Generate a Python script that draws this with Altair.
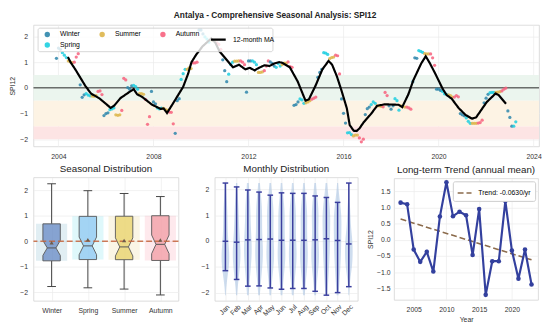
import json
import altair as alt
import numpy as np
import pandas as pd

FONT = "Liberation Sans"

# ---------------- data ----------------
years = list(range(2003, 2024))
# monthly SPI12, Jan..Dec, one row per year (None = no value)
spi12 = [
    [None, None, None, None, None, None, None, None, None, None, None, 1.15],            # 2003
    [1.55, 1.50, 1.37, 1.27, 1.18, 1.05, 1.01, 0.98, 1.00, 1.20, 1.33, 0.12],            # 2004
    [-0.37, -0.27, -0.22, -0.28, -0.31, -0.32, -0.33, -0.30, -0.14, -0.12, -0.26, -1.08],  # 2005
    [-1.00, -0.97, -0.85, -0.82, -0.78, -1.05, -1.07, -1.05, -0.88, 0.37, 0.31, 0.01],   # 2006
    [-0.05, 0.08, 0.10, 0.05, -0.05, -0.22, -0.22, -0.25, -0.45, -1.42, -1.12, -0.14],   # 2007
    [-0.55, -0.62, -0.78, -0.82, -0.79, -0.80, -0.84, -0.88, -0.94, -0.95, -1.40, -1.77],  # 2008
    [-0.50, -0.42, 0.33, 0.55, 0.72, 0.72, 0.78, 0.75, 0.97, 0.97, 1.00, 2.25],          # 2009
    [2.25, 2.10, 1.98, 1.90, 1.78, 1.87, 1.85, 1.85, 1.75, 1.69, 1.50, 1.09],            # 2010
    [0.67, 0.24, 0.53, 0.91, 1.00, 1.04, 1.04, 1.05, 1.05, 1.00, 0.90, -0.17],           # 2011
    [1.05, 1.05, 1.05, 1.00, 0.90, 0.60, 0.60, 0.62, 0.67, 0.85, 1.05, 1.01],            # 2012
    [0.95, 0.85, 0.80, 0.95, 0.85, 0.90, 0.96, 0.96, 1.01, 0.83, 0.80, -0.68],           # 2013
    [-0.65, -0.55, -0.43, -0.47, -0.60, -0.58, -0.55, -0.50, -0.44, -0.40, -0.36, 0.41],  # 2014
    [0.60, 0.72, 1.37, 1.35, 1.30, 1.14, 1.18, 1.20, 1.27, 1.25, 0.54, -0.43],           # 2015
    [-0.99, -1.37, -1.75, -1.74, -1.82, -1.87, -1.84, -1.84, -1.95, -2.10, -2.00, -1.04],  # 2016
    [-0.81, -0.75, -0.65, -0.55, -0.60, -0.70, -0.70, -0.72, -0.74, -0.18, -0.30, -0.70],  # 2017
    [-0.83, -0.70, -0.42, -0.50, -0.87, -0.70, -0.72, -0.75, -0.75, -0.78, -0.83, 0.24],  # 2018
    [1.17, 1.15, 1.45, 1.42, 1.38, 1.33, 1.32, 1.32, 1.32, 1.17, 0.88, -0.05],           # 2019
    [-0.05, -0.10, -0.14, -0.23, -0.25, -0.27, -0.30, -0.36, -0.36, -0.30, -0.35, -1.00],  # 2020
    [-1.05, -1.09, -1.17, -1.30, -1.38, -1.38, -1.38, -1.38, -1.37, -1.35, -1.26, -0.58],  # 2021
    [-0.40, -0.25, -0.19, -0.18, -0.18, -0.18, -0.17, -0.15, -0.12, -0.05, -0.01, -0.90],  # 2022
    [-1.15, -1.49, -1.49, -1.32, None, None, None, None, None, None, None, None],        # 2023
]

month_names = ["Jan", "Feb", "Mar", "Apr", "May", "Jun", "Jul", "Aug", "Sep", "Oct", "Nov", "Dec"]
season_of_month = ["Winter", "Winter", "Spring", "Spring", "Spring", "Summer",
                   "Summer", "Summer", "Autumn", "Autumn", "Autumn", "Winter"]
season_names = ["Winter", "Spring", "Summer", "Autumn"]
season_colors = ["#2E86AB", "#1DCFE0", "#DDB54A", "#F7627E"]
box_colors = ["#6f90c8", "#93cbf3", "#ead46f", "#f2a0a8"]
# order of the entries as handed to the legend (laid out as: Winter Summer Autumn / Spring)
legend_order = ["Winter", "Autumn", "Summer", "Spring"]

# 12-month moving average (as drawn)
ma_years = [2004.40, 2004.51, 2004.71, 2004.92, 2005.13, 2005.37, 2005.74, 2006.20, 2006.36,
            2006.61, 2006.94, 2007.17, 2007.31, 2007.52, 2007.93, 2008.30, 2008.43, 2008.57,
            2008.76, 2008.96, 2009.25, 2009.46, 2009.60, 2009.79, 2010.07, 2010.43, 2010.61,
            2010.78, 2011.00, 2011.19, 2011.35, 2011.60, 2011.87, 2012.05, 2012.26, 2012.38,
            2012.67, 2012.88, 2013.09, 2013.29, 2013.41, 2013.74, 2014.07, 2014.40, 2014.54,
            2014.82, 2015.11, 2015.37, 2015.52, 2015.72, 2015.93, 2016.14, 2016.26, 2016.43,
            2016.55, 2016.67, 2016.84, 2017.17, 2017.41, 2017.74, 2018.32, 2018.47, 2018.73,
            2018.94, 2019.27, 2019.46, 2019.64, 2019.89, 2020.18, 2020.34, 2020.55, 2020.84,
            2021.13, 2021.41, 2021.58, 2022.03, 2022.40, 2022.53, 2022.84]
ma_values = [1.20, 1.00, 0.72, 0.40, 0.08, -0.22, -0.42, -0.78, -0.68,
             -0.40, -0.19, -0.05, -0.25, -0.35, -0.65, -0.82, -0.80, -0.98,
             -0.70, -0.40, 0.04, 0.55, 1.00, 1.28, 1.62, 1.92, 1.75,
             1.42, 1.18, 0.97, 0.80, 0.90, 0.72, 0.78, 0.68, 0.75,
             0.88, 0.85, 0.95, 1.00, 0.98, 0.80, 0.25, -0.50, -0.45,
             0.08, 0.72, 1.05, 0.90, 0.45, -0.15, -0.80, -1.45, -1.67,
             -1.68, -1.58, -1.35, -1.00, -0.70, -0.64, -0.66, -0.75, -0.25,
             0.30, 0.95, 1.23, 0.95, 0.50, -0.05, -0.28, -0.42, -0.78,
             -1.05, -1.20, -1.15, -0.55, -0.22, -0.28, -0.62]

# annual means (bottom-right panel)
annual_years = list(range(2003, 2024))
annual_means = [1.15, 1.10, -0.30, -0.68, -0.37, -0.98, 0.72, 1.78, 0.73, 0.87, 0.76,
                -0.47, 0.95, -1.70, -0.66, -0.66, 1.20, -0.33, -1.20, -0.30, -1.38]

# drought-class bands
band_lo = [-0.5, -1.5, -2.0]
band_hi = [0.5, -0.5, -1.5]
band_colors = ["#ebf5ee", "#fdf3e4", "#fde4e4"]

year_ticks = [2004, 2008, 2012, 2016, 2020, 2024]
spi_ticks = [-2, -1, 0, 1, 2]

# ---------------- tables ----------------
rows = []
for yr, vals in zip(years, spi12):
    for m, v in enumerate(vals, start=1):
        if v is None:
            continue
        rows.append({"t": yr + (m - 1) / 12.0, "value": v, "month": m,
                     "season": season_of_month[m - 1]})
df = pd.DataFrame(rows)
ma_df = pd.DataFrame({"t": ma_years, "value": ma_values, "lab": "12-month MA"})
band_df = pd.DataFrame({"lo": band_lo, "hi": band_hi, "col": band_colors})
ann_df = pd.DataFrame({"year": annual_years, "mean": annual_means})
slope = np.polyfit(annual_years, annual_means, 1)[0]
trend_label = f"Trend: {slope:.4f}/yr"
zero_df = pd.DataFrame({"y": [0.0]})

GRID = "#ebebeb"

# ---------------- top panel ----------------
W_TOP, H_TOP = 516, 124
xs_top = alt.Scale(domain=[2002.95, 2024.23], nice=False, zero=False)
ys_top = alt.Scale(domain=[-2.28, 2.45], nice=False, zero=False)
ax_x_top = alt.Axis(values=year_ticks, format="d", title=None, labelPadding=6)
ax_y_top = alt.Axis(values=spi_ticks, format="d", title="SPI12", labelPadding=6, titlePadding=4)


def XT(f):
    return alt.X(f, scale=xs_top, axis=ax_x_top)


def YT(f):
    return alt.Y(f, scale=ys_top, axis=ax_y_top)


bands = alt.Chart(band_df).mark_rect().encode(
    x=alt.value(0), x2=alt.value(W_TOP), y=YT("lo:Q"), y2="hi:Q",
    color=alt.Color("col:N", scale=None))
zero_top = alt.Chart(zero_df).mark_rule(color="#222222", strokeWidth=1).encode(y=YT("y:Q"))
pts = alt.Chart(df).mark_circle(size=11, opacity=0.85).encode(
    x=XT("t:Q"), y=YT("value:Q"),
    color=alt.Color("season:N",
                    scale=alt.Scale(domain=legend_order,
                                    range=[season_colors[season_names.index(s)] for s in legend_order]),
                    legend=alt.Legend(orient="none", legendX=10.6, legendY=6, columns=3, title=None,
                                      symbolType="circle", symbolSize=30, symbolOpacity=0.9,
                                      labelFontSize=7, labelFont=FONT, labelOffset=9.5,
                                      columnPadding=19, rowPadding=3, padding=0)))
ma = alt.Chart(ma_df).mark_line(color="black", strokeWidth=2.2).encode(
    x=XT("t:Q"), y=YT("value:Q"),
    strokeDash=alt.StrokeDash("lab:N", scale=alt.Scale(domain=["12-month MA"], range=[[1, 0]]),
                              legend=alt.Legend(orient="none", legendX=179.7, legendY=6, title=None,
                                                symbolType="stroke", symbolStrokeColor="black",
                                                symbolStrokeWidth=2.5, symbolSize=225,
                                                labelFontSize=7, labelFont=FONT, labelOffset=6,
                                                padding=0)))
frame = alt.Chart(zero_df).mark_rect(fill="white", fillOpacity=0.8, stroke="#cccccc",
                                     strokeWidth=0.8, cornerRadius=2).encode(
    x=alt.value(4.7), x2=alt.value(244.4), y=alt.value(3.3), y2=alt.value(27.3))

top = alt.layer(bands, zero_top, pts, ma, frame).properties(width=W_TOP, height=H_TOP)

# ---------------- seasonal box plot ----------------
W1, H1 = 148, 126
xs1 = alt.Scale(domain=[0.5, 4.5], nice=False, zero=False)
ys1 = alt.Scale(domain=[-2.33, 2.5], nice=False, zero=False)
ax_x1 = alt.Axis(values=[1, 2, 3, 4], labelExpr=f"{json.dumps(season_names)}[datum.value - 1]",
                 title=None, labelPadding=6)
ax_y1 = alt.Axis(values=spi_ticks, format="d", title=None, labelPadding=6)


def X1(f):
    return alt.X(f, scale=xs1, axis=ax_x1)


def Y1(f):
    return alt.Y(f, scale=ys1, axis=ax_y1)


sarr = json.dumps(season_names)
box_base = alt.Chart(df).transform_aggregate(
    q1="q1(value)", q3="q3(value)", med="median(value)", lo="min(value)", hi="max(value)",
    avg="mean(value)", n="count()", groupby=["season"]
).transform_calculate(
    pos=f"indexof({sarr}, datum.season) + 1",
    nlo="datum.med - 1.57 * (datum.q3 - datum.q1) / sqrt(datum.n)",
    nhi="datum.med + 1.57 * (datum.q3 - datum.q1) / sqrt(datum.n)",
    bcol=f"{json.dumps(box_colors)}[indexof({sarr}, datum.season)]",
    scol=f"{json.dumps(season_colors)}[indexof({sarr}, datum.season)]",
).transform_calculate(
    bgl="datum.pos - 0.43", bgr="datum.pos + 0.43",
    capl="datum.pos - 0.12", capr="datum.pos + 0.12",
    ml="datum.pos - 0.12", mr="datum.pos + 0.12",
)

bg1 = box_base.mark_rect(opacity=0.14).encode(
    x=X1("bgl:Q"), x2="bgr:Q", y=Y1("q1:Q"), y2="q3:Q", color=alt.Color("scol:N", scale=None))
wlo = box_base.mark_rule(color="#444444", strokeWidth=1).encode(x=X1("pos:Q"), y=Y1("lo:Q"), y2="q1:Q")
whi = box_base.mark_rule(color="#444444", strokeWidth=1).encode(x=X1("pos:Q"), y=Y1("q3:Q"), y2="hi:Q")
caplo = box_base.mark_rule(color="#444444", strokeWidth=1).encode(x=X1("capl:Q"), x2="capr:Q", y=Y1("lo:Q"))
caphi = box_base.mark_rule(color="#444444", strokeWidth=1).encode(x=X1("capl:Q"), x2="capr:Q", y=Y1("hi:Q"))
boxes = box_base.transform_calculate(
    ys="[datum.q1, datum.nlo, datum.med, datum.nhi, datum.q3]",
    ws="[0.24, 0.24, 0.12, 0.24, 0.24]",
).transform_flatten(["ys", "ws"]).transform_calculate(
    xl="datum.pos - datum.ws", xr="datum.pos + datum.ws"
).mark_area(orient="horizontal", stroke="#555555", strokeWidth=0.9, fillOpacity=0.8).encode(
    y=Y1("ys:Q"), x=X1("xl:Q"), x2="xr:Q", color=alt.Color("bcol:N", scale=None),
    detail="season:N")
med1 = box_base.mark_rule(color="#555555", strokeWidth=1).encode(x=X1("ml:Q"), x2="mr:Q", y=Y1("med:Q"))
mean1 = box_base.mark_point(shape="triangle-up", filled=True, size=18, color="#6e5c4c", opacity=1).encode(
    x=X1("pos:Q"), y=Y1("avg:Q"))
zero1 = alt.Chart(zero_df).mark_rule(color="#c4643c", strokeWidth=1.5, strokeDash=[6, 3], opacity=0.85).encode(
    y=Y1("y:Q"))

p1 = alt.layer(bg1, wlo, whi, caplo, caphi, boxes, med1, zero1, mean1).properties(
    width=W1, height=H1,
    title=alt.TitleParams("Seasonal Distribution", fontSize=10, font=FONT, fontWeight="normal",
                          color="#222222", offset=3))

# ---------------- monthly violins ----------------
W2, H2 = 146, 126
xs2 = alt.Scale(domain=[0.05, 12.8], nice=False, zero=False)
ys2 = alt.Scale(domain=[-2.32, 2.47], nice=False, zero=False)
ax_x2 = alt.Axis(values=list(range(1, 13)), labelExpr=f"{json.dumps(month_names)}[datum.value - 1]",
                 labelAngle=-45, labelAlign="right", labelBaseline="top", title=None, labelPadding=2,
                 labelOverlap=False, labelFontSize=7)
ax_y2 = alt.Axis(values=spi_ticks, format="d", title=None, labelPadding=6)


def X2(f):
    return alt.X(f, scale=xs2, axis=ax_x2)


def Y2(f):
    return alt.Y(f, scale=ys2, axis=ax_y2)


VIOLET = "#3b3f9e"
violin = alt.Chart(df).transform_density(
    "value", as_=["v", "dens"], groupby=["month"]
).transform_joinaggregate(maxd="max(dens)", groupby=["month"]).transform_calculate(
    xl="datum.month - 0.34 * datum.dens / datum.maxd",
    xr="datum.month + 0.34 * datum.dens / datum.maxd",
).mark_area(orient="horizontal", color="#9dbbe0", opacity=0.5).encode(
    y=Y2("v:Q"), x=X2("xl:Q"), x2="xr:Q", detail="month:N")
mstats = alt.Chart(df).transform_aggregate(
    lo="min(value)", hi="max(value)", avg="mean(value)", groupby=["month"]
).transform_calculate(cl="datum.month - 0.25", cr="datum.month + 0.25")
ext = mstats.mark_rule(color=VIOLET, strokeWidth=1.5).encode(x=X2("month:Q"), y=Y2("lo:Q"), y2="hi:Q")
cap2lo = mstats.mark_rule(color=VIOLET, strokeWidth=1.5).encode(x=X2("cl:Q"), x2="cr:Q", y=Y2("lo:Q"))
cap2hi = mstats.mark_rule(color=VIOLET, strokeWidth=1.5).encode(x=X2("cl:Q"), x2="cr:Q", y=Y2("hi:Q"))
mean2 = mstats.mark_rule(color=VIOLET, strokeWidth=1.5).encode(x=X2("cl:Q"), x2="cr:Q", y=Y2("avg:Q"))

p2 = alt.layer(violin, ext, cap2lo, cap2hi, mean2).properties(
    width=W2, height=H2,
    title=alt.TitleParams("Monthly Distribution", fontSize=10, font=FONT, fontWeight="normal",
                          color="#222222", offset=3))

# ---------------- annual trend ----------------
W3, H3 = 147, 124
xs3 = alt.Scale(domain=[2002.0, 2024.0], nice=False, zero=False)
ys3 = alt.Scale(domain=[-1.855, 1.90], nice=False, zero=False)
ax_x3 = alt.Axis(values=[2005, 2010, 2015, 2020], format="d", title="Year", labelPadding=6, titlePadding=3)
ax_y3 = alt.Axis(values=[-1.5, -1.0, -0.5, 0.0, 0.5, 1.0, 1.5], format=".1f", title="SPI12",
                 labelPadding=4, titlePadding=3)


def X3(f):
    return alt.X(f, scale=xs3, axis=ax_x3)


def Y3(f):
    return alt.Y(f, scale=ys3, axis=ax_y3)


LINE3 = "#33409e"
trend = alt.Chart(ann_df).transform_regression("year", "mean").transform_calculate(
    lab=f"'{trend_label}'"
).mark_line(color="#8b6b4c", strokeWidth=1.6).encode(
    x=X3("year:Q"), y=Y3("mean:Q"),
    strokeDash=alt.StrokeDash("lab:N", scale=alt.Scale(domain=[trend_label], range=[[6, 3]]),
                              legend=alt.Legend(orient="top-right", offset=3, title=None,
                                                symbolType="stroke", symbolStrokeColor="#8b6b4c",
                                                symbolStrokeWidth=1.6, symbolSize=200,
                                                labelFontSize=7, labelFont=FONT, labelOffset=6,
                                                fillColor="white", strokeColor="#cccccc",
                                                padding=4, cornerRadius=2)))
aline = alt.Chart(ann_df).mark_line(color=LINE3, strokeWidth=2.2).encode(x=X3("year:Q"), y=Y3("mean:Q"))
apts = alt.Chart(ann_df).mark_circle(color=LINE3, size=22, opacity=1).encode(x=X3("year:Q"), y=Y3("mean:Q"))

p3 = alt.layer(trend, aline, apts).properties(
    width=W3, height=H3,
    title=alt.TitleParams("Long-term Trend (annual mean)", fontSize=10, font=FONT, fontWeight="normal",
                          color="#222222", offset=3))

bottom = alt.hconcat(p1, p2, p3, spacing=37, bounds="flush", center=True).resolve_scale(
    color="independent", strokeDash="independent").resolve_legend(
    color="independent", strokeDash="independent")

chart = alt.vconcat(
    top, bottom, spacing=31.6, bounds="flush",
    title=alt.TitleParams("Antalya - Comprehensive Seasonal Analysis: SPI12", fontSize=8.5,
                          fontWeight="bold", font=FONT, anchor="middle", offset=5, color="#222222"),
).resolve_scale(color="independent", strokeDash="independent").resolve_legend(
    color="independent", strokeDash="independent"
).configure_view(stroke="#d4d4d4", strokeWidth=0.8).configure_axis(
    labelFont=FONT, titleFont=FONT, labelFontSize=7, titleFontSize=7, labelColor="#333333",
    titleColor="#333333", titleFontWeight="normal", gridColor=GRID, gridWidth=0.7,
    domain=False, ticks=False
).properties(padding=0)

chart.save("out.html", embed_options={"renderer": "svg", "actions": False})
